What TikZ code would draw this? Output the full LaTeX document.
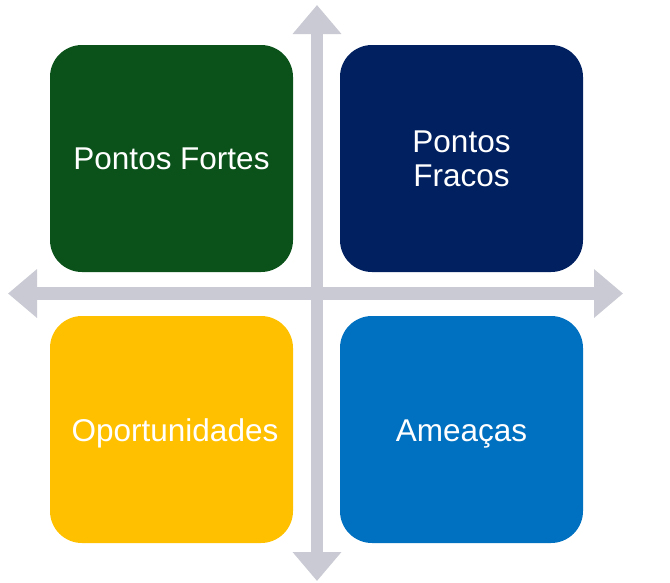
\documentclass[tikz,border=0pt]{standalone}
\usepackage{fontspec}
\setmainfont{Liberation Sans}
\usetikzlibrary{arrows.meta}
\definecolor{cgreen}{HTML}{0A5219}
\definecolor{cnavy}{HTML}{002060}
\definecolor{cyellow}{HTML}{FFC000}
\definecolor{cblue}{HTML}{0070C0}
\definecolor{caxis}{HTML}{C9CAD3}
\begin{document}
\begin{tikzpicture}[x=1pt,y=-1pt,
  quad/.style={draw=none, rounded corners=32pt, minimum width=243pt, minimum height=227pt,
    text=white, align=center, font=\fontsize{31.5}{34}\selectfont, inner sep=0pt},
  axis/.style={draw=caxis, line width=12.5pt,
    {Triangle[length=29pt,width=47pt]}-{Triangle[length=29pt,width=47pt]}}]
\useasboundingbox (0,0) rectangle (670,582);
\coordinate (top) at (317,5);
\coordinate (bot) at (317,581);
\coordinate (lft) at (8,293.5);
\coordinate (rgt) at (623,293.5);
\draw[axis] (top) -- (bot);
\draw[axis] (lft) -- (rgt);
\node[quad, fill=cgreen] (s) at (171.5,158.5) {Pontos Fortes};
\node[quad, fill=cnavy] (w) at (461.5,158.5) {Pontos\\Fracos};
\node[quad, fill=cyellow] (o) at (171.5,429.5) {\hspace*{7pt}\raisebox{-12pt}[0pt][0pt]{Oportunidades}};
\node[quad, fill=cblue] (t) at (461.5,429.5) {\raisebox{-12pt}[0pt][0pt]{Ameaças}};
\end{tikzpicture}
\end{document}
